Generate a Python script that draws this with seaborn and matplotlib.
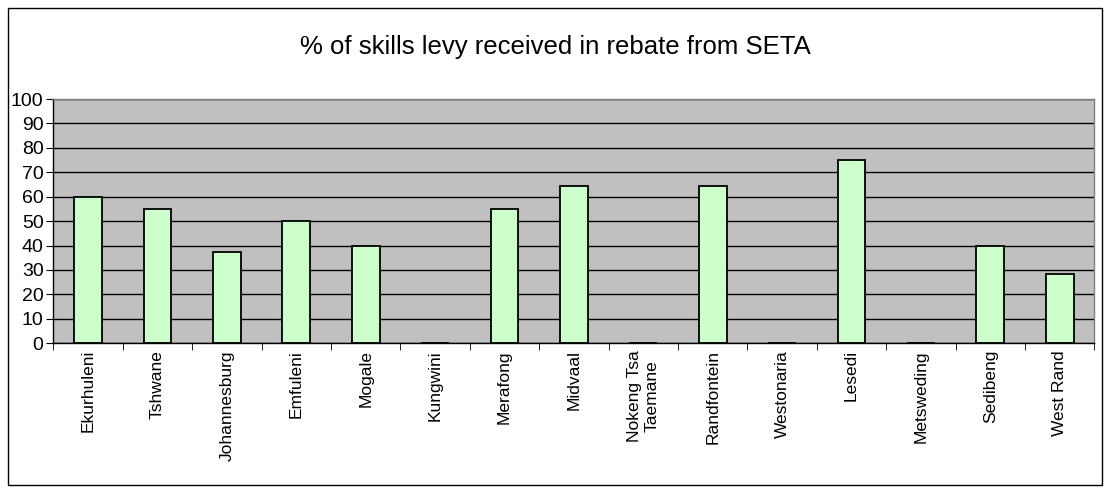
import numpy as np
import seaborn as sns
import matplotlib.pyplot as plt
import pandas as pd
from matplotlib.patches import Rectangle
from matplotlib.ticker import FixedLocator

municipalities = ['Ekurhuleni', 'Tshwane', 'Johannesburg', 'Emfuleni', 'Mogale', 'Kungwini',
                  'Merafong', 'Midvaal', 'Nokeng Tsa\nTaemane', 'Randfontein', 'Westonaria',
                  'Lesedi', 'Metsweding', 'Sedibeng', 'West Rand']
rebate_pct = [60, 55, 37.5, 50, 40, 0, 55, 64.5, 0, 64.5, 0, 75, 0, 40, 28.5]

df = pd.DataFrame({'municipality': municipalities, 'pct': rebate_pct})

sns.set_style('white')
plt.rcParams['font.family'] = ['Liberation Sans', 'DejaVu Sans']
plt.rcParams['text.color'] = 'black'
plt.rcParams['xtick.color'] = 'black'
plt.rcParams['ytick.color'] = 'black'

fig = plt.figure(figsize=(11.1, 4.93), dpi=100)
ax = fig.add_axes([0.048, 0.304, 0.938, 0.495])

# plot area styling
ax.set_facecolor('#C0C0C0')
ax.set_axisbelow(True)
ax.yaxis.grid(True, color='black', linewidth=1)

sns.barplot(data=df, x='municipality', y='pct', color='#CCFFCC', saturation=1,
            edgecolor='black', linewidth=1.3, width=0.4, ax=ax)

ax.set_ylim(0, 100)
ax.set_yticks(range(0, 101, 10))
ax.set_xlim(-0.5, len(municipalities) - 0.5)
ax.set_xlabel('')
ax.set_ylabel('')

# category ticks sit between the bars
ax.tick_params(axis='x', which='major', length=0, pad=5)
ax.xaxis.set_minor_locator(FixedLocator(np.arange(-0.5, len(municipalities), 1)))
ax.tick_params(axis='x', which='minor', length=5, direction='out', color='black')
ax.tick_params(axis='y', length=5, direction='out', color='black', labelsize=14, pad=2)
ax.yaxis.set_ticks_position('left')
ax.xaxis.set_ticks_position('bottom')
for lab in ax.get_xticklabels():
    lab.set_rotation(90)
    lab.set_fontsize(12.5)
    lab.set_va('top')
    lab.set_ha('center')
    lab.set_multialignment('center')

for side in ['top', 'right']:
    ax.spines[side].set_color('#808080')
for side in ['left', 'bottom']:
    ax.spines[side].set_color('black')
for s in ax.spines.values():
    s.set_linewidth(1)

fig.text(0.5, 0.905, '% of skills levy received in rebate from SETA', ha='center', va='center', fontsize=18.5)

# outer chart border
fig.patches.append(Rectangle((0.007, 0.016), 0.986, 0.968, transform=fig.transFigure,
                             fill=False, edgecolor='black', linewidth=1))

fig.savefig('out.png', dpi=100)
